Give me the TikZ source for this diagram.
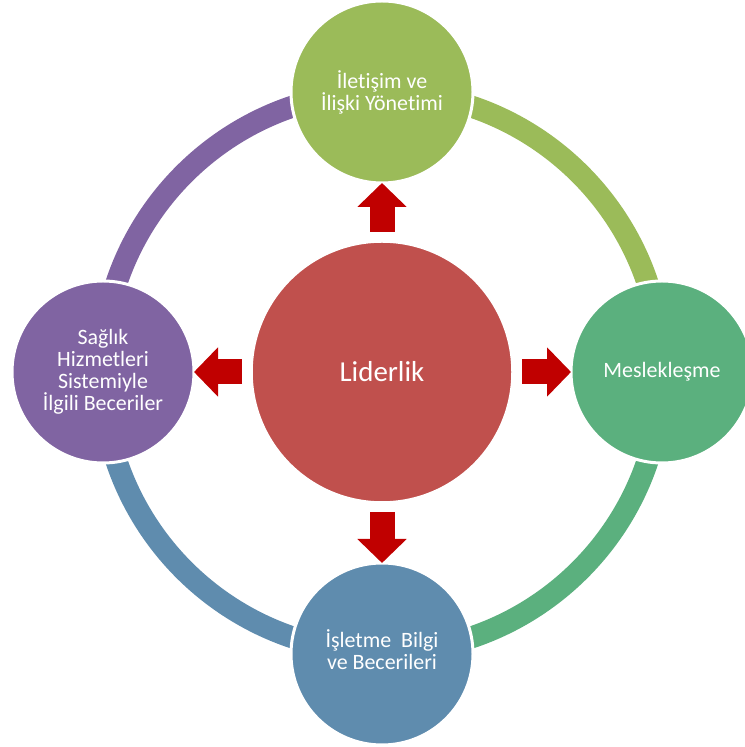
\documentclass[tikz,border=0pt]{standalone}
\usepackage{fontspec}
\setmainfont[Ligatures=NoCommon]{Carlito}
\usetikzlibrary{arrows.meta}
\definecolor{hubred}{HTML}{C0504D}
\definecolor{olivegreen}{HTML}{9BBB59}
\definecolor{seagreen}{HTML}{5BB07E}
\definecolor{steelblue}{HTML}{5F8CAE}
\definecolor{plum}{HTML}{8064A2}
\definecolor{arrowred}{HTML}{C00000}
\begin{document}
\begin{tikzpicture}[x=1bp,y=1bp,
  hub/.style={circle, fill=hubred, draw=white, line width=1.5bp, inner sep=0pt, outer sep=0pt,
    minimum size=260bp, text=white, font=\fontsize{29}{34}\selectfont},
  topic/.style={circle, draw=white, line width=3bp, inner sep=0pt, outer sep=0pt,
    minimum size=182bp, text=white, align=center, font=\fontsize{22}{22}\selectfont},
  ring/.style={line width=22bp},
  bigarrow/.style={draw=arrowred, line width=25bp, shorten <=10bp,
    -{Triangle[width=48bp, length=24bp, fill=arrowred]}}]
\useasboundingbox (0,0) rectangle (745,747);
\coordinate (O) at (382,375);
% ring
\draw[ring, olivegreen] (O) ++(90:280) arc[start angle=90, end angle=0, radius=280];
\draw[ring, seagreen] (O) ++(0:280) arc[start angle=0, end angle=-90, radius=280];
\draw[ring, steelblue] (O) ++(-90:280) arc[start angle=-90, end angle=-180, radius=280];
\draw[ring, plum] (O) ++(180:280) arc[start angle=180, end angle=90, radius=280];
% nodes
\node[hub] (C) at (O) {Liderlik};
\node[topic, fill=olivegreen] (T) at (382,655) {İletişim ve\\İlişki Yönetimi};
\node[topic, fill=seagreen] (R) at (662,375) {Meslekleşme};
\node[topic, fill=steelblue] (B) at (382,93) {İşletme\ \ Bilgi\\ve Becerileri\\[-13bp]};
\node[topic, fill=plum] (L) at (103,375) {Sağlık\\Hizmetleri\\Sistemiyle\\İlgili Beceriler};
% arrows
\draw[bigarrow] (C) -- (T);
\draw[bigarrow] (C) -- (R);
\draw[bigarrow] (C) -- (B);
\draw[bigarrow] (C) -- (L);
\end{tikzpicture}
\end{document}
